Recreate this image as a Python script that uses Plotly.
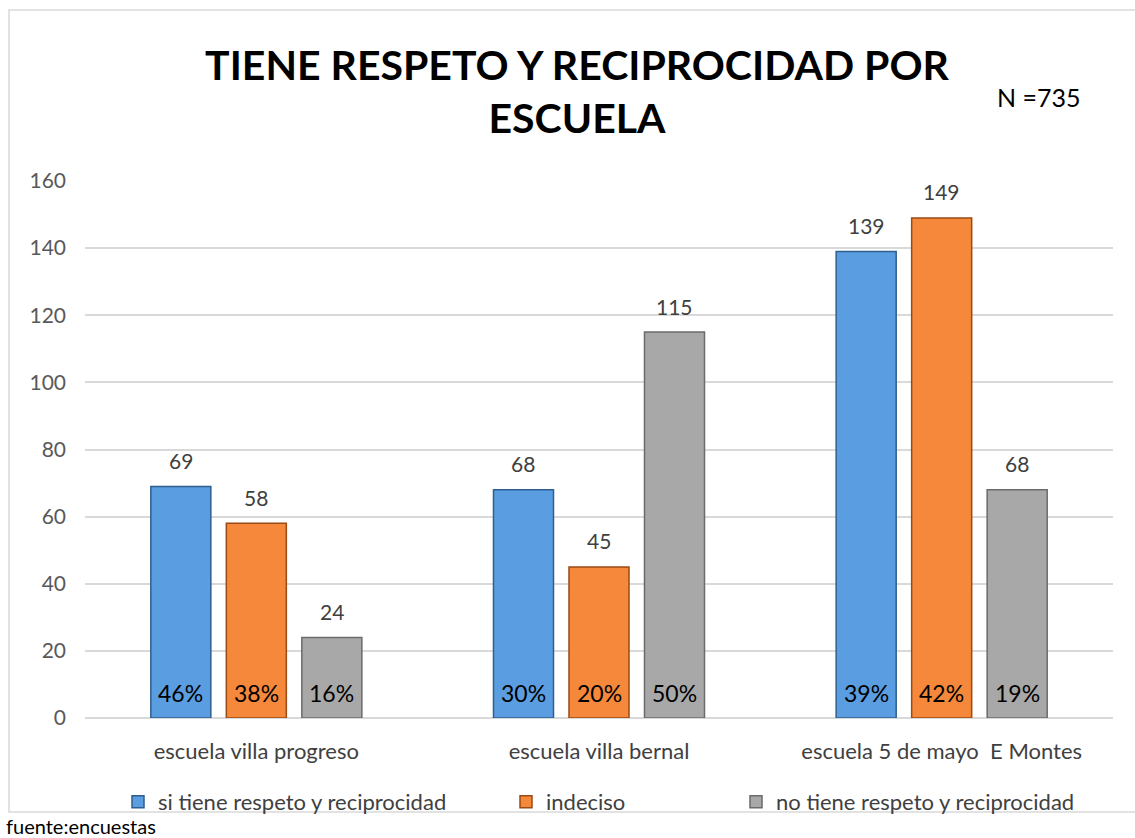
import plotly.graph_objects as go

categories = ["escuela villa progreso", "escuela villa bernal", "escuela 5 de mayo  E Montes"]
series_names = ["si tiene respeto y reciprocidad", "indeciso", "no tiene respeto y reciprocidad"]
values_si = [69, 68, 139]
values_indeciso = [58, 45, 149]
values_no = [24, 115, 68]
pct_si = ["46%", "30%", "39%"]
pct_indeciso = ["38%", "20%", "42%"]
pct_no = ["16%", "50%", "19%"]
y_ticks = [0, 20, 40, 60, 80, 100, 120, 140, 160]

series_values = [values_si, values_indeciso, values_no]
series_pcts = [pct_si, pct_indeciso, pct_no]
colors = ["#5A9DE0", "#F5883A", "#A8A8A8"]
edge_colors = ["#2F5F8F", "#9A4A15", "#6B6B6B"]

FONT = "Lato"
W, H = 1135, 838
ML, MR, MT, MB = 85, 22, 181, 120
BARGAP, BARGROUPGAP = 0.339, 0.205

plot_w = W - ML - MR
plot_h = H - MT - MB


def px_to_paper_x(px):
    return (px - ML) / plot_w


def py_to_paper_y(py):
    return (H - MB - py) / plot_h


fig = go.Figure()
legend_ids = ["legend", "legend2", "legend3"]
for i, (name, vals) in enumerate(zip(series_names, series_values)):
    fig.add_trace(go.Bar(
        x=categories, y=vals, name=name,
        marker=dict(color=colors[i], line=dict(color=edge_colors[i], width=1.5)),
        cliponaxis=False,
        legend=legend_ids[i],
    ))

cat_w = plot_w / len(categories)
slot = cat_w * (1 - BARGAP) / 3
for i, (vals, pcts) in enumerate(zip(series_values, series_pcts)):
    for j, (v, p) in enumerate(zip(vals, pcts)):
        # value label above bar
        fig.add_annotation(
            x=categories[j], y=v, xref="x", yref="y", text=str(v), showarrow=False,
            xshift=(i - 1) * slot, yshift=26, yanchor="middle",
            font=dict(family=FONT, size=21, color="#404040"),
        )
        # percentage label inside bar near base
        fig.add_annotation(
            x=categories[j], y=0, xref="x", yref="y", text=p, showarrow=False,
            xshift=(i - 1) * slot, yshift=25, yanchor="middle",
            font=dict(family=FONT, size=23, color="#000000"),
        )

# N annotation
fig.add_annotation(x=px_to_paper_x(995), y=py_to_paper_y(97), xref="paper", yref="paper",
                   text="N =735", showarrow=False, xanchor="left", yanchor="middle",
                   font=dict(family=FONT, size=25, color="#000000"))

# source note
fig.add_annotation(x=px_to_paper_x(4), y=py_to_paper_y(826), xref="paper", yref="paper",
                   text="fuente:encuestas", showarrow=False, xanchor="left", yanchor="middle",
                   font=dict(family=FONT, size=20, color="#000000"))

# chart border
fig.add_shape(type="rect", xref="paper", yref="paper",
              x0=px_to_paper_x(9), x1=px_to_paper_x(1140), y0=py_to_paper_y(812), y1=py_to_paper_y(10),
              line=dict(color="#D9D9D9", width=1.5), fillcolor="rgba(0,0,0,0)", layer="below")

legend_text_x = [160, 548, 778]
legend_common = dict(orientation="h", yanchor="middle", xanchor="left", itemwidth=30,
                     font=dict(family=FONT, size=22, color="#404040"), bgcolor="rgba(0,0,0,0)")
legends = {}
for i, lid in enumerate(legend_ids):
    legends[lid] = dict(legend_common, x=px_to_paper_x(legend_text_x[i] - 42), y=py_to_paper_y(802))

fig.update_layout(
    width=W, height=H,
    margin=dict(l=ML, r=MR, t=MT, b=MB),
    paper_bgcolor="white", plot_bgcolor="white",
    barmode="group", bargap=BARGAP, bargroupgap=BARGROUPGAP,
    title=dict(text="<b>TIENE RESPETO Y RECIPROCIDAD POR<br>ESCUELA</b>",
               x=577 / W, xanchor="center",
               y=1 - 80 / H, yanchor="middle",
               font=dict(family=FONT, size=41, color="#000000")),
    xaxis=dict(showgrid=False, showline=False, ticks="", ticklabelstandoff=18,
               tickfont=dict(family=FONT, size=22, color="#404040")),
    yaxis=dict(range=[0, 160], tickvals=y_ticks, showgrid=True, gridcolor="#D9D9D9", gridwidth=1.5,
               zeroline=True, zerolinecolor="#D9D9D9", zerolinewidth=1.5, showline=False,
               ticks="", ticklabelstandoff=18,
               tickfont=dict(family=FONT, size=21, color="#595959")),
    showlegend=True,
    **legends,
)

fig.write_html("out.html")
